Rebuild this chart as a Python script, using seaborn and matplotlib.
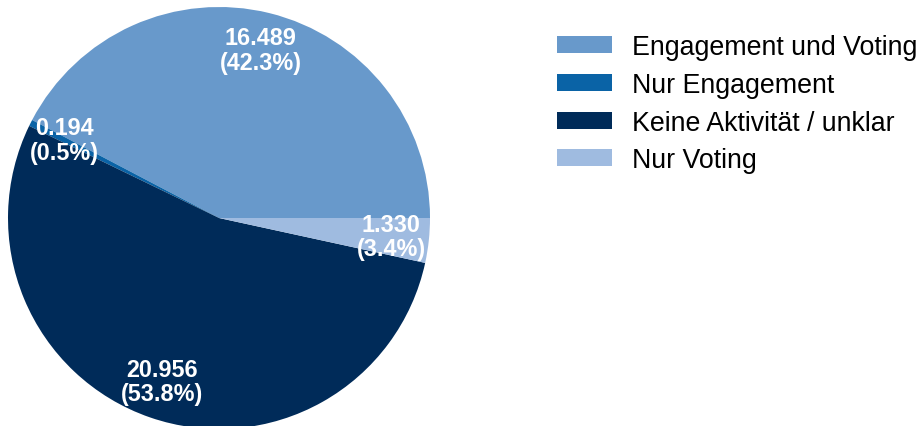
import matplotlib
matplotlib.use("Agg")
import matplotlib.pyplot as plt
import seaborn as sns

categories = ["Engagement und Voting", "Nur Engagement", "Keine Aktivität / unklar", "Nur Voting"]
values = [16.489, 0.194, 20.956, 1.330]
percents = ["42.3%", "0.5%", "53.8%", "3.4%"]
value_labels = ["16.489", "0.194", "20.956", "1.330"]
colors = ["#6899cb", "#0a63a6", "#002b59", "#9fbbe0"]

sns.set_theme(style="white")
plt.rcParams['font.family'] = ['Liberation Sans', 'DejaVu Sans']
plt.rcParams['text.color'] = 'black'

W, H = 919, 427
fig = plt.figure(figsize=(W / 100, H / 100), dpi=100)
cx, cy, r = 219, 219, 211
ax = fig.add_axes([(cx - r) / W, (H - cy - r) / H, 2 * r / W, 2 * r / H])

labels_txt = [f"{v}\n({p})" for v, p in zip(value_labels, percents)]
wedges, texts = ax.pie(values, colors=colors, startangle=0, counterclock=True,
                       labels=labels_txt, labeldistance=0.82,
                       wedgeprops=dict(linewidth=0),
                       textprops=dict(color="white", fontsize=16.8, fontweight="bold",
                                      ha="center", va="center", linespacing=1.1))
ax.set_xlim(-1, 1)
ax.set_ylim(-1, 1)
ax.set_aspect("equal")
ax.axis("off")

fig.legend(wedges, categories, loc="upper left", bbox_to_anchor=(557 / W, 1 - 35 / H),
           frameon=False, fontsize=19.3, handlelength=2.05, handleheight=0.6,
           handletextpad=0.75, labelspacing=0.44, borderpad=0, borderaxespad=0,
           labelcolor="black")

fig.savefig("out.png", dpi=100)
